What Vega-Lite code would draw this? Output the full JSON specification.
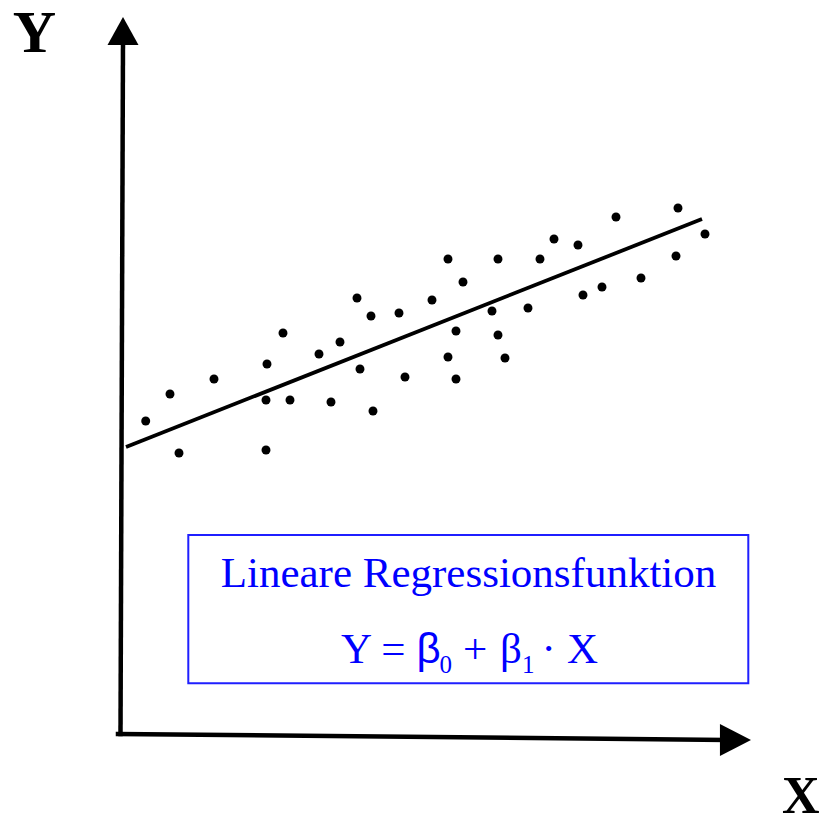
{
  "$schema": "https://vega.github.io/schema/vega-lite/v6.json",
  "width": 822,
  "height": 818,
  "padding": 0,
  "autosize": {"type": "none"},
  "background": "white",
  "config": {"view": {"stroke": null}},
  "encoding": {
    "x": {"field": "x", "type": "quantitative", "scale": {"domain": [-12, 70.2], "nice": false, "zero": false}, "axis": null},
    "y": {"field": "y", "type": "quantitative", "scale": {"domain": [-8, 73.8], "nice": false, "zero": false}, "axis": null}
  },
  "layer": [
    {
      "data": {"values": [{"x": 6.83, "y": 20.3, "x2": 62.83, "y2": 5.47}]},
      "mark": {"type": "rect", "fill": "transparent", "stroke": "#1f1fff", "strokeWidth": 2},
      "encoding": {"x2": {"field": "x2"}, "y2": {"field": "y2"}}
    },
    {
      "data": {"values": [
        {"axis": "Y", "x": 0.05, "y": 0.4, "x2": 0.3, "y2": 69.8},
        {"axis": "X", "x": -0.2, "y": 0.4, "x2": 60.5, "y2": -0.2}
      ]},
      "mark": {"type": "rule", "color": "black", "strokeWidth": 4.5, "strokeCap": "square"},
      "encoding": {"x2": {"field": "x2"}, "y2": {"field": "y2"}}
    },
    {
      "data": {"values": [{"x": 0.3, "y": 72.1}]},
      "mark": {"type": "point", "shape": "M0,0L-1,1.8L1,1.8Z", "size": 961, "filled": true, "color": "black", "opacity": 1}
    },
    {
      "data": {"values": [{"x": 63.1, "y": -0.2}]},
      "mark": {"type": "point", "shape": "M0,0L-1.94,-1L-1.94,1Z", "size": 1024, "filled": true, "color": "black", "opacity": 1}
    },
    {
      "data": {"values": [{"x": 0.6, "y": 29.1}, {"x": 58.2, "y": 51.9}]},
      "mark": {"type": "line", "color": "black", "strokeWidth": 3.8},
      "encoding": {}
    },
    {
      "data": {"values": [
        {"x": 2.57, "y": 31.7}, {"x": 5.0, "y": 34.4}, {"x": 5.9, "y": 28.5}, {"x": 9.4, "y": 35.9},
        {"x": 14.7, "y": 37.4}, {"x": 14.6, "y": 33.8}, {"x": 14.6, "y": 28.8}, {"x": 16.3, "y": 40.5},
        {"x": 17.0, "y": 33.8}, {"x": 19.9, "y": 38.4}, {"x": 21.1, "y": 33.6}, {"x": 22.0, "y": 39.6},
        {"x": 23.7, "y": 44.0}, {"x": 24.0, "y": 36.9}, {"x": 25.1, "y": 42.2}, {"x": 25.3, "y": 32.7},
        {"x": 27.9, "y": 42.5}, {"x": 28.5, "y": 36.1}, {"x": 31.2, "y": 43.8}, {"x": 32.8, "y": 47.9},
        {"x": 34.3, "y": 45.6}, {"x": 33.6, "y": 40.7}, {"x": 32.8, "y": 38.1}, {"x": 33.6, "y": 35.9},
        {"x": 37.8, "y": 47.9}, {"x": 37.2, "y": 42.7}, {"x": 37.8, "y": 40.3}, {"x": 38.5, "y": 38.0},
        {"x": 40.8, "y": 43.0}, {"x": 42.0, "y": 47.9}, {"x": 43.4, "y": 49.9}, {"x": 45.8, "y": 49.3},
        {"x": 46.3, "y": 44.3}, {"x": 48.2, "y": 45.1}, {"x": 49.6, "y": 52.1}, {"x": 52.1, "y": 46.0},
        {"x": 55.6, "y": 48.2}, {"x": 55.8, "y": 53.0}, {"x": 58.5, "y": 50.4}
      ]},
      "mark": {"type": "circle", "size": 80, "color": "black", "opacity": 1}
    },
    {
      "data": {"values": [{"x": -8.55, "y": 68.6, "label": "Y"}]},
      "mark": {"type": "text", "font": "Liberation Serif", "fontWeight": "bold", "fontSize": 60, "align": "center", "baseline": "alphabetic", "color": "black"},
      "encoding": {"text": {"field": "label"}}
    },
    {
      "data": {"values": [{"x": 66.2, "y": -7.5, "label": "X"}]},
      "mark": {"type": "text", "font": "Liberation Serif", "fontWeight": "bold", "fontSize": 52, "align": "left", "baseline": "alphabetic", "color": "black"},
      "encoding": {"text": {"field": "label"}}
    },
    {
      "data": {"values": [{"x": 34.85, "y": 15.13, "label": "Lineare Regressionsfunktion"}]},
      "mark": {"type": "text", "font": "Liberation Serif", "fontSize": 43, "align": "center", "baseline": "alphabetic", "color": "#0000ff"},
      "encoding": {"text": {"field": "label"}}
    },
    {
      "data": {"values": [
        {"x": 22.1, "y": 7.47, "label": "Y ="},
        {"x": 34.3, "y": 7.47, "label": "+"},
        {"x": 38.0, "y": 7.47, "label": "β"},
        {"x": 42.15, "y": 7.47, "label": "·"},
        {"x": 44.7, "y": 7.47, "label": "X"}
      ]},
      "mark": {"type": "text", "font": "Liberation Serif", "fontSize": 43, "align": "left", "baseline": "alphabetic", "color": "#0000ff"},
      "encoding": {"text": {"field": "label"}}
    },
    {
      "data": {"values": [{"x": 29.65, "y": 7.47, "label": "β"}]},
      "mark": {"type": "text", "font": "Liberation Sans", "fontSize": 42, "align": "left", "baseline": "alphabetic", "color": "#0000ff"},
      "encoding": {"text": {"field": "label"}}
    },
    {
      "data": {"values": [
        {"x": 31.95, "y": 6.5, "label": "0"},
        {"x": 40.2, "y": 6.5, "label": "1"}
      ]},
      "mark": {"type": "text", "font": "Liberation Serif", "fontSize": 25, "align": "left", "baseline": "alphabetic", "color": "#0000ff"},
      "encoding": {"text": {"field": "label"}}
    }
  ]
}
